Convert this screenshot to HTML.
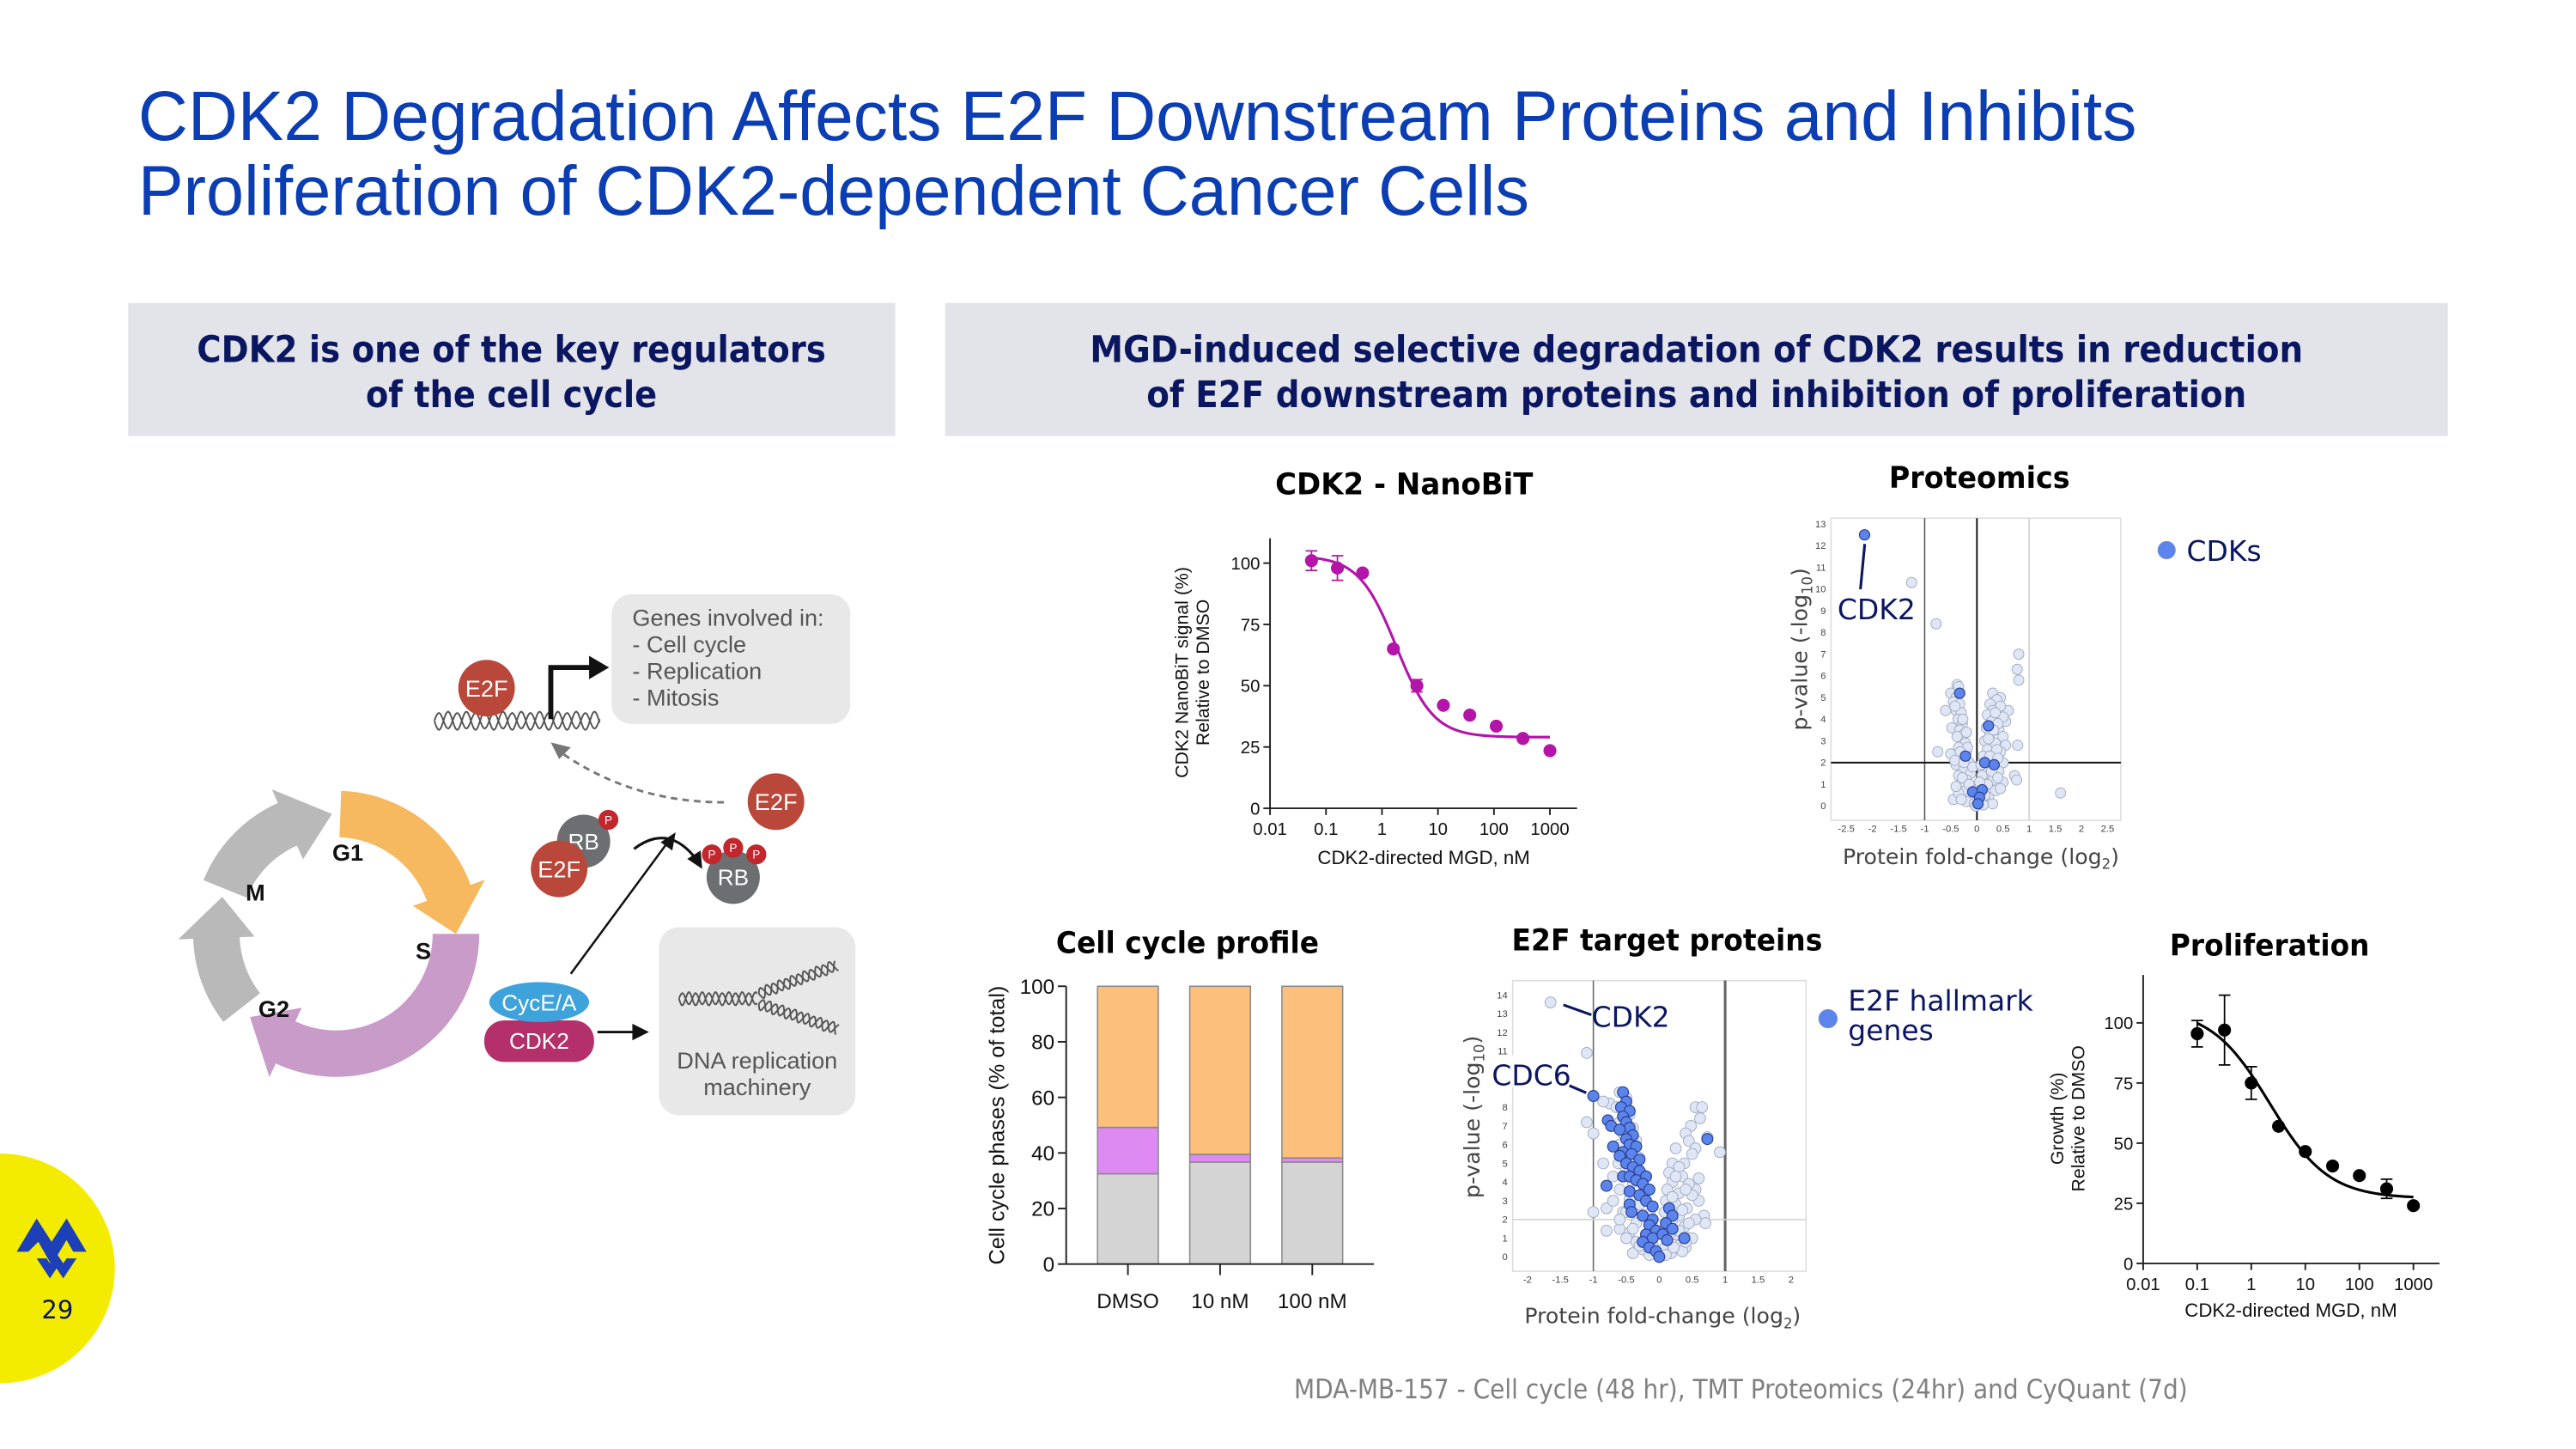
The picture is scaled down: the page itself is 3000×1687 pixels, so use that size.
<!DOCTYPE html>
<html><head><meta charset="utf-8">
<style>
html,body{margin:0;padding:0;background:#fff;}
svg{display:block;}
text{font-family:"Liberation Sans",Arial,sans-serif;}
.vd{font-family:"DejaVu Sans","Liberation Sans",sans-serif;}
</style></head>
<body>
<svg id="root" xmlns="http://www.w3.org/2000/svg" width="3000" height="1687" viewBox="0 0 1548 870.5">
<rect x="0" y="0" width="1548" height="870.5" fill="#fff"/>

<g fill="#0b3db3" class="vd">
<text x="83" y="84" font-size="42" textLength="1201" lengthAdjust="spacingAndGlyphs">CDK2 Degradation Affects E2F Downstream Proteins and Inhibits</text>
<text x="83" y="129" font-size="42" textLength="836" lengthAdjust="spacingAndGlyphs">Proliferation of CDK2-dependent Cancer Cells</text>
</g>

<g>
<rect x="77" y="182" width="461" height="80" fill="#e2e4ea"/>
<text class="vd" x="307.3" y="217.6" text-anchor="middle" font-size="22" font-weight="bold" fill="#0b1660" textLength="378" lengthAdjust="spacingAndGlyphs">CDK2 is one of the key regulators</text>
<text class="vd" x="307.3" y="244.5" text-anchor="middle" font-size="22" font-weight="bold" fill="#0b1660" textLength="175" lengthAdjust="spacingAndGlyphs">of the cell cycle</text>
</g>
<g>
<rect x="568" y="182" width="903" height="80" fill="#e2e4ea"/>
<text class="vd" x="1019.5" y="217.6" text-anchor="middle" font-size="22" font-weight="bold" fill="#0b1660" textLength="729" lengthAdjust="spacingAndGlyphs">MGD-induced selective degradation of CDK2 results in reduction</text>
<text class="vd" x="1019.5" y="244.5" text-anchor="middle" font-size="22" font-weight="bold" fill="#0b1660" textLength="661" lengthAdjust="spacingAndGlyphs">of E2F downstream proteins and inhibition of proliferation</text>
</g>

<g id="diagram"></g>

<g id="nanobit"></g>
<g id="prot"></g>
<g id="cc"></g>
<g id="e2f"></g>
<g id="prolif"></g>

<g>
<circle cx="0" cy="762" r="69" fill="#f4ec00"/>
<path d="M10,752 L22,732 L31,746 L40,732 L52,752 L44,752 L40,745 L31,760 L23,746 L17,752 Z" fill="#1d3fb8"/>
<path d="M22,756 L30,768 L34,762 L38,768 L46,756 L40,756 L38,759 L34,753 L30,759 L28,756 Z" fill="#1d3fb8"/>
<text x="34.5" y="792" text-anchor="middle" font-size="15" fill="#0b1660" class="vd">29</text>
</g>
<text x="777.6" y="840" font-size="16" fill="#808080" class="vd" textLength="537" lengthAdjust="spacingAndGlyphs">MDA-MB-157 - Cell cycle (48 hr), TMT Proteomics (24hr) and CyQuant (7d)</text>
</svg>

<script>
// ---------- DATA ----------
const nbConc = [0.055, 0.16, 0.45, 1.6, 4.2, 12.5, 37, 110, 330, 1000];
const nbVal  = [101, 98, 96, 65, 50, 42, 38, 33.5, 28.5, 23.5];
const nbErr  = [4, 5, 0, 0, 2.5, 0, 0, 0, 0, 0];
const nbFit  = [103, 29, 1.8, 1.3];
const nbXTicks = ["0.01", "0.1", "1", "10", "100", "1000"];
const nbYTicks = [0, 25, 50, 75, 100];
const prConc = [0.1, 0.32, 1, 3.2, 10, 32, 100, 320, 1000];
const prVal  = [95.5, 97, 75, 57, 46.5, 40.5, 36.5, 31, 24];
const prErr  = [5.5, 14.5, 6.8, 0, 0, 0, 0, 4, 0];
const prFit  = [106, 27, 2.2, 0.8];
const prXTicks = ["0.01", "0.1", "1", "10", "100", "1000"];
const prYTicks = [0, 25, 50, 75, 100];
const ccCats = ["DMSO", "10 nM", "100 nM"];
const ccG1   = [32.5, 36.7, 36.7];
const ccS    = [16.7, 2.8, 1.5];
const ccG2M  = [50.8, 60.5, 61.8];
const ccYTicks = [0, 20, 40, 60, 80, 100];
const ptLight = [[-1.25,10.3],[-0.78,8.4],[0.8,7.0],[0.77,6.3],[0.8,5.8],[1.6,0.6],[-0.75,2.5],[0.78,2.8],[0.72,1.4],[0.76,1.2],[-0.45,0.3],[-0.6,4.4],[-0.48,3.6],[0.6,4.4],[0.55,3.9],
[-0.38,5.6],[-0.35,5.5],[-0.5,5.2],[-0.4,5.0],[-0.45,4.8],[-0.33,4.7],[-0.4,4.4],[-0.3,4.3],[-0.36,4.0],[-0.28,3.8],[-0.33,3.5],[-0.25,3.3],[-0.3,3.1],[-0.22,2.9],[-0.35,2.7],[-0.2,2.5],[-0.5,2.4],[-0.3,2.2],[-0.15,2.0],[-0.4,1.9],[-0.25,1.7],[-0.12,1.5],[-0.35,1.4],[-0.2,1.2],[-0.3,1.0],[-0.1,0.9],[-0.22,0.7],[-0.35,0.6],[-0.12,0.4],[-0.2,0.2],[-0.05,0.1],
[-0.42,4.6],[-0.27,4.0],[-0.38,3.2],[-0.18,2.7],[-0.42,2.1],[-0.08,1.8],[-0.28,1.3],[-0.15,1.0],[-0.4,0.9],[-0.3,0.3],[-0.05,0.7],[-0.25,2.0],[-0.2,3.4],[-0.32,2.5],
[0.3,5.2],[0.45,5.0],[0.38,4.9],[0.25,4.7],[0.45,4.6],[0.3,4.4],[0.2,4.2],[0.5,4.1],[0.28,3.9],[0.18,3.6],[0.42,3.5],[0.25,3.3],[0.5,3.2],[0.15,3.0],[0.35,2.9],[0.55,2.8],[0.2,2.6],[0.45,2.5],[0.12,2.3],[0.3,2.1],[0.5,2.0],[0.2,1.8],[0.42,1.6],[0.1,1.4],[0.3,1.2],[0.5,1.1],[0.15,0.9],[0.35,0.7],[0.05,0.6],[0.22,0.4],[0.1,0.2],[0.3,0.1],[-0.02,0.0],[0.12,0.05],
[0.35,4.3],[0.4,3.8],[0.22,3.1],[0.38,2.6],[0.08,1.9],[0.28,1.6],[0.4,1.3],[0.2,1.0],[0.45,0.8],[0.15,0.5],[0.32,3.5],[0.25,2.3],[0.4,2.2],[0.05,1.1]];
const ptBlue = [[-2.15,12.5],[-0.33,5.2],[0.22,3.7],[-0.22,2.3],[0.15,2.0],[0.33,1.9],[-0.08,0.65],[0.1,0.75],[0.05,0.4],[0.02,0.1]];
const ptXTicks = [-2.5,-2,-1.5,-1,-0.5,0,0.5,1,1.5,2,2.5];
const ptYTicks = [0,1,2,3,4,5,6,7,8,9,10,11,12,13];
const e2Light = [[-1.65,13.6],[-1.1,10.9],[-1.1,7.2],[-1.0,6.6],[-1.0,2.4],[-0.8,2.6],[-0.8,1.4],[-0.85,5.0],[-0.75,8.2],[-0.85,8.3],[0.55,8.0],[0.65,8.0],[0.62,7.4],[0.48,7.0],[0.92,5.6],[0.73,6.4],[0.4,6.6],[0.45,6.2],[0.55,5.8],[0.5,5.5],[0.25,5.8],[0.38,5.0],[0.6,4.2],[0.55,3.6],[0.6,3.0],[0.68,2.2],[0.7,1.8],[0.45,1.0],[0.4,0.5],[-0.4,0.2],[-0.6,1.5],[-0.55,2.4],
[-0.6,8.8],[-0.5,8.5],[-0.65,8.0],[-0.45,7.6],[-0.6,7.2],[-0.4,6.9],[-0.55,6.6],[-0.35,6.2],[-0.6,6.0],[-0.45,5.7],[-0.3,5.3],[-0.62,5.0],[-0.5,4.7],[-0.25,4.4],[-0.7,4.3],[-0.4,4.0],[-0.6,3.6],[-0.2,3.5],[-0.45,3.1],[-0.7,3.0],[-0.3,2.8],[-0.5,2.4],[-0.15,2.3],[-0.6,2.0],[-0.35,1.8],[-0.1,1.6],[-0.45,1.3],[-0.2,1.1],[-0.35,0.8],[-0.1,0.6],[-0.25,0.4],[-0.05,0.2],
[0.2,5.0],[0.3,4.8],[0.15,4.5],[0.35,4.3],[0.2,4.0],[0.45,3.9],[0.12,3.6],[0.3,3.4],[0.5,3.3],[0.1,3.0],[0.25,2.8],[0.42,2.6],[0.08,2.4],[0.3,2.2],[0.55,2.0],[0.15,1.9],[0.38,1.6],[0.05,1.4],[0.25,1.2],[0.5,1.0],[0.12,0.8],[0.3,0.6],[0.05,0.4],[0.18,0.2],[0.35,0.3],[0.0,0.0],
[0.25,4.3],[0.4,3.6],[0.2,3.2],[0.35,2.5],[0.2,2.0],[0.45,1.8],[0.3,1.4],[0.15,1.1],[0.4,0.8],[0.22,0.5],[0.1,0.1],[-0.15,0.1],[-0.3,0.6],[-0.5,1.0],[-0.4,1.5]];
const e2Blue = [[-0.55,8.8],[-0.5,8.3],[-0.58,8.0],[-0.45,7.8],[-0.55,7.5],[-0.78,7.3],[-0.73,7.0],[-0.5,7.2],[-0.45,6.9],[-0.6,6.8],[-0.4,6.5],[-0.5,6.3],[-0.7,5.9],[-0.45,6.0],[-0.35,5.9],[-0.55,5.6],[-0.6,5.4],[-0.42,5.5],[-0.3,5.2],[-0.5,5.0],[-0.4,4.8],[-0.3,4.6],[-0.55,4.3],[-0.45,4.3],[-0.2,4.3],[-0.35,4.1],[-0.8,3.8],[-0.25,3.9],[-0.45,3.5],[-0.15,3.6],[-0.3,3.3],[-0.2,3.0],[-0.45,2.8],[-0.1,2.7],[-0.42,2.4],[-0.25,2.2],[-0.1,2.0],[-0.15,1.7],[-0.05,1.4],[-0.2,1.2],[-0.1,1.0],[-0.25,0.8],[-0.15,0.5],[-0.05,0.3],[0.0,0.0],[0.15,2.6],[0.2,2.2],[0.1,1.8],[0.2,1.5],[0.05,1.2],[0.12,0.9],[0.38,1.0],[0.73,6.3],[-1.0,8.6]];
const e2XTicks = [-2,-1.5,-1,-0.5,0,0.5,1,1.5,2];
const e2YTicks = [0,1,2,3,4,5,6,7,8,11,12,13,14];

// ---------- HELPERS ----------
const NS = "http://www.w3.org/2000/svg";
function mk(tag, attrs, parent, txt) {
  const e = document.createElementNS(NS, tag);
  for (const k in attrs) e.setAttribute(k, attrs[k]);
  if (txt !== undefined) e.textContent = txt;
  parent.appendChild(e);
  return e;
}
function logistic(c, p) { return p[1] + (p[0] - p[1]) / (1 + Math.pow(c / p[2], p[3])); }

function doseChart(g, o) {
  const X = c => o.x0 + (Math.log10(c) + 2) * o.dec;
  const Y = v => o.y0 - v * o.ky;
  let e;
  e = mk("line", {x1:o.x0, y1:o.y0, x2:o.xEnd, y2:o.y0, stroke:"#222", "stroke-width":1}, g);
  
  
  e = mk("line", {x1:o.x0, y1:o.y0, x2:o.x0, y2:o.yTop, stroke:"#222", "stroke-width":1}, g);
  
  
  o.xTicks.forEach((t, i) => {
    const x = X(Math.pow(10, i - 2));
    let a = mk("line", {x1:x, y1:o.y0, x2:x, y2:o.y0 + 4, stroke:"#222", "stroke-width":1}, g);
    
    
    a = mk("text", {x:x, y:o.y0 + 16, "text-anchor":"middle", "font-size":10.5, fill:"#111"}, g, t);
    
    
  });
  o.yTicks.forEach(t => {
    const y = Y(t);
    let a = mk("line", {x1:o.x0 - 4, y1:y, x2:o.x0, y2:y, stroke:"#222", "stroke-width":1}, g);
    
    
    a = mk("text", {x:o.x0 - 6, y:y + 3.8, "text-anchor":"end", "font-size":10.5, fill:"#111"}, g, String(t));
    
    
  });
  let d = "";
  const lo = Math.log10(o.conc[0]), hi = Math.log10(o.conc[o.conc.length - 1]);
  for (let k = 0; k <= 80; k++) {
    const c = Math.pow(10, lo + (hi - lo) * k / 80);
    d += (k ? "L" : "M") + X(c).toFixed(2) + "," + Y(logistic(c, o.fit)).toFixed(2);
  }
  e = mk("path", {d:d, fill:"none", stroke:o.color, "stroke-width":1.6}, g);
  
  
  o.conc.forEach((c, i) => {
    const x = X(c), y = Y(o.vals[i]);
    if (o.err[i] > 0) {
      const y1 = Y(o.vals[i] + o.err[i]), y2 = Y(o.vals[i] - o.err[i]);
      let a = mk("path", {d:`M${x},${y1}V${y2}M${x-3.5},${y1}H${x+3.5}M${x-3.5},${y2}H${x+3.5}`, stroke:o.color, "stroke-width":0.9, fill:"none"}, g);
      
      
    }
    let p = mk("circle", {cx:x, cy:y, r:3.9, fill:o.color}, g);
    
    
  });
}

doseChart(document.getElementById("nanobit"), {x0:763.2, dec:33.64, y0:485.6, ky:1.473, xEnd:947.7, yTop:323.4,
  conc:nbConc, vals:nbVal, err:nbErr, fit:nbFit, xTicks:nbXTicks, yTicks:nbYTicks, color:"#b414a8"});
doseChart(document.getElementById("prolif"), {x0:1287.9, dec:32.48, y0:759, ky:1.445, xEnd:1466, yTop:585.7,
  conc:prConc, vals:prVal, err:prErr, fit:prFit, xTicks:prXTicks, yTicks:prYTicks, color:"#000"});

(function labels() {
  const g1 = document.getElementById("nanobit"), g2 = document.getElementById("prolif");
  let e;
  e = mk("text", {x:843.8, y:297, "text-anchor":"middle", "font-size":18, "font-weight":"bold", fill:"#000", class:"vd", textLength:155, lengthAdjust:"spacingAndGlyphs"}, g1, "CDK2 - NanoBiT");
  
  
  e = mk("text", {x:855.6, y:519, "text-anchor":"middle", "font-size":11.5, fill:"#111"}, g1, "CDK2-directed MGD, nM");
  
  
  e = mk("text", {transform:"translate(726,404) rotate(-90)", "text-anchor":"middle", "font-size":11, fill:"#111"}, g1);
  
  
  mk("tspan", {x:0, y:-12}, e, "CDK2 NanoBiT signal (%)");
  mk("tspan", {x:0, y:0.5}, e, "Relative to DMSO");

  e = mk("text", {x:1363.9, y:574, "text-anchor":"middle", "font-size":18, "font-weight":"bold", fill:"#000", class:"vd", textLength:120, lengthAdjust:"spacingAndGlyphs"}, g2, "Proliferation");
  
  
  e = mk("text", {x:1376.7, y:791, "text-anchor":"middle", "font-size":11.5, fill:"#111"}, g2, "CDK2-directed MGD, nM");
  
  
  e = mk("text", {transform:"translate(1251,672) rotate(-90)", "text-anchor":"middle", "font-size":11, fill:"#111"}, g2);
  
  
  mk("tspan", {x:0, y:-11}, e, "Growth (%)");
  mk("tspan", {x:0, y:1.5}, e, "Relative to DMSO");
})();

(function () {
  const g = document.getElementById("cc");
  const Y = v => 759.4 - v * 1.669;
  const x0 = 640.7, band = 55.4, first = 677.8, bw = 36.5;
  const X = i => first + i * band;
  let e;
  e = mk("text", {x:713.6, y:572.5, "text-anchor":"middle", "font-size":18, "font-weight":"bold", fill:"#000", class:"vd", textLength:158, lengthAdjust:"spacingAndGlyphs"}, g, "Cell cycle profile");
  
  
  const segs = [[ccG1, "#d4d4d4", "g1-segment"], [ccS, "#dd8af2", "s-segment"], [ccG2M, "#fcbf7c", "g2m-segment"]];
  ccCats.forEach((c, i) => {
    let base = 0;
    segs.forEach(s => {
      const v = s[0][i];
      const r = mk("rect", {x:X(i) - bw / 2, y:Y(base + v), width:bw, height:v * 1.669, fill:s[1], stroke:"#8a8a8a", "stroke-width":0.8}, g);
      
      
      base += v;
    });
    let t = mk("line", {x1:X(i), y1:759.4, x2:X(i), y2:766, stroke:"#222", "stroke-width":1}, g);
    
    
    t = mk("text", {x:X(i), y:786, "text-anchor":"middle", "font-size":12.5, fill:"#111"}, g, c);
    
    
  });
  e = mk("line", {x1:x0, y1:759.4, x2:825.6, y2:759.4, stroke:"#222", "stroke-width":1}, g);
  
  
  e = mk("line", {x1:x0, y1:759.4, x2:x0, y2:Y(100), stroke:"#222", "stroke-width":1}, g);
  
  
  ccYTicks.forEach(v => {
    let t = mk("line", {x1:x0 - 5, y1:Y(v), x2:x0, y2:Y(v), stroke:"#222", "stroke-width":1}, g);
    
    
    t = mk("text", {x:x0 - 7, y:Y(v) + 4.5, "text-anchor":"end", "font-size":12.5, fill:"#111"}, g, String(v));
    
    
  });
  e = mk("text", {transform:"translate(603.5,676) rotate(-90)", "text-anchor":"middle", "font-size":13, fill:"#111"}, g, "Cell cycle phases (% of total)");
  
  
})();

function volcano(g, o) {
  const X = v => o.x0 + v * o.kx;
  const Y = v => o.y0 - v * o.ky;
  let e;
  e = mk("rect", {x:o.fl, y:o.ft, width:o.fr - o.fl, height:o.fb - o.ft, fill:"#fff", stroke:"#dcdcdc", "stroke-width":0.8}, g);
  
  
  o.vlines.forEach(v => {
    const l = mk("line", {x1:X(v[0]), y1:o.ft, x2:X(v[0]), y2:o.fb, stroke:v[1], "stroke-width":v[2]}, g);
    
    
  });
  e = mk("line", {x1:o.fl, y1:Y(2), x2:o.fr, y2:Y(2), stroke:o.hcol, "stroke-width":o.hw}, g);
  
  
  o.xTicks.forEach(v => {
    const t = mk("text", {x:X(v), y:o.fb + 7, "text-anchor":"middle", "font-size":5.8, fill:"#444"}, g, String(v));
    
    
  });
  o.yTicks.forEach(v => {
    const t = mk("text", {x:o.fl - 3, y:Y(v) + 2, "text-anchor":"end", "font-size":5.8, fill:"#444"}, g, String(v));
    
    
  });
  o.light.forEach(p => {
    const c = mk("circle", {cx:X(p[0]), cy:Y(p[1]), r:o.r, fill:"#dfe6f6", stroke:"#a4abc0", "stroke-width":0.5}, g);
    
    
  });
  o.blue.forEach(p => {
    const c = mk("circle", {cx:X(p[0]), cy:Y(p[1]), r:o.r, fill:"#5b84ec", stroke:"#2a3f8e", "stroke-width":0.6}, g);
    
    
  });
  e = mk("text", {x:(o.fl + o.fr) / 2 + o.xtOff, y:o.xtY, "text-anchor":"middle", "font-size":13, fill:"#444", class:"vd"}, g);
  
  
  mk("tspan", {}, e, "Protein fold-change (log");
  mk("tspan", {"font-size":8.5, dy:3}, e, "2");
  mk("tspan", {dy:-3}, e, ")");
  e = mk("text", {transform:`translate(${o.ytX},${o.ytY}) rotate(-90)`, "text-anchor":"middle", "font-size":13, fill:"#444", class:"vd"}, g);
  
  
  mk("tspan", {}, e, "p-value (-log");
  mk("tspan", {"font-size":8.5, dy:3}, e, "10");
  mk("tspan", {dy:-3}, e, ")");
}

(function () {
  const g = document.getElementById("prot");
  volcano(g, {x0:1188, kx:31.4, y0:484.2, ky:13.03, fl:1100.3, fr:1274.5, ft:311.3, fb:492.8,
    vlines:[[-1, "#555", 0.8], [0, "#111", 1], [1, "#d0d0d0", 0.8]], hcol:"#111", hw:1,
    xTicks:ptXTicks, yTicks:ptYTicks, light:ptLight, blue:ptBlue, r:3.1, xtOff:3, xtY:519, ytX:1086, ytY:390});
  let e;
  e = mk("text", {x:1189.5, y:293, "text-anchor":"middle", "font-size":18, "font-weight":"bold", fill:"#000", class:"vd", textLength:108.7, lengthAdjust:"spacingAndGlyphs"}, g, "Proteomics");
  
  
  e = mk("line", {x1:1120.6, y1:326.8, x2:1118, y2:354, stroke:"#0b1660", "stroke-width":1.6}, g);
  
  
  e = mk("text", {x:1104.2, y:372, "font-size":17, fill:"#0b1660", class:"vd"}, g, "CDK2");
  
  
  e = mk("circle", {cx:1302, cy:330.5, r:5.2, fill:"#5b84ec", stroke:"#7a8fc8", "stroke-width":0.5}, g);
  
  
  e = mk("text", {x:1314, y:337, "font-size":17, fill:"#0b1660", class:"vd"}, g, "CDKs");
  
  
})();

(function () {
  const g = document.getElementById("e2f");
  volcano(g, {x0:997.1, kx:39.6, y0:755.1, ky:11.24, fl:909, fr:1085.3, ft:589.1, fb:763.7,
    vlines:[[-1, "#666", 0.8], [1, "#666", 1.6]], hcol:"#d4d4d4", hw:0.8,
    xTicks:e2XTicks, yTicks:e2YTicks, light:e2Light, blue:e2Blue, r:3.3, xtOff:2, xtY:795, ytX:889, ytY:671});
  let e;
  e = mk("text", {x:1001.8, y:571, "text-anchor":"middle", "font-size":18, "font-weight":"bold", fill:"#000", class:"vd", textLength:186.7, lengthAdjust:"spacingAndGlyphs"}, g, "E2F target proteins");
  
  
  e = mk("line", {x1:939.5, y1:603.7, x2:956.3, y2:609.7, stroke:"#0b1660", "stroke-width":1.6}, g);
  
  
  e = mk("text", {x:956.5, y:617, "font-size":17, fill:"#0b1660", class:"vd"}, g, "CDK2");
  
  
  e = mk("rect", {x:895, y:634, width:48, height:19, fill:"#fff"}, g);
  
  
  e = mk("text", {x:896.5, y:652, "font-size":17, fill:"#0b1660", class:"vd"}, g, "CDC6");
  
  
  e = mk("line", {x1:943.1, y1:652.2, x2:953.2, y2:656.5, stroke:"#0b1660", "stroke-width":1.6}, g);
  
  
  e = mk("circle", {cx:1098.5, cy:612, r:5.5, fill:"#5b84ec", stroke:"#7a8fc8", "stroke-width":0.5}, g);
  
  
  e = mk("text", {x:1110.6, y:607, "font-size":17, fill:"#0b1660", class:"vd"}, g, "E2F hallmark");
  
  
  e = mk("text", {x:1110.6, y:625, "font-size":17, fill:"#0b1660", class:"vd"}, g, "genes");
  
  
})();

(function () {
  const g = document.getElementById("diagram");
  const cx = 202, cy = 561, R = 72, W = 28;
  const P = (a, r) => [cx + r * Math.sin(a * Math.PI / 180), cy - r * Math.cos(a * Math.PI / 180)];
  function arrowSeg(a0, a1, a2, col, name) {
    const ro = R + W / 2, ri = R - W / 2, ho = R + W / 2 + 9, hi = R - W / 2 - 9;
    const f = p => p[0].toFixed(1) + "," + p[1].toFixed(1);
    const d = `M${f(P(a0, ro))} A${ro},${ro} 0 0 1 ${f(P(a1, ro))} L${f(P(a1, ho))} L${f(P(a2, R))} L${f(P(a1, hi))} L${f(P(a1, ri))} A${ri},${ri} 0 0 0 ${f(P(a0, ri))} Z`;
    const e = mk("path", {d:d, fill:col}, g);
    
    
  }
  arrowSeg(2, 70, 90, "#f6b95f", "g1-arrow");
  arrowSeg(90, 205, 226, "#c99bc9", "s-arrow");
  arrowSeg(232, 268, 288, "#b9b9b9", "g2-arrow");
  arrowSeg(292, 336, 358, "#b9b9b9", "m-arrow");
  const lab = [["G1", 209, 517], ["M", 153.5, 541], ["S", 254.4, 576], ["G2", 164.6, 611]];
  lab.forEach(l => {
    const e = mk("text", {x:l[1], y:l[2], "text-anchor":"middle", "font-size":14, "font-weight":"bold", fill:"#111"}, g, l[0]);
    
    
  });
  function dna(x0, x1, y, amp, per, name, rot) {
    let d1 = "", d2 = "";
    for (let x = x0; x <= x1; x += 0.7) {
      const s = amp * Math.sin((x - x0) / per * 2 * Math.PI);
      d1 += (x === x0 ? "M" : "L") + x.toFixed(1) + "," + (y + s).toFixed(1);
      d2 += (x === x0 ? "M" : "L") + x.toFixed(1) + "," + (y - s * 0.85).toFixed(1);
    }
    const e = mk("path", {d:d1 + d2, fill:"none", stroke:"#555", "stroke-width":1, transform:rot || ""}, g);
    
    
  }
  dna(261, 361, 433, 5.5, 11, "promoter-dna");
  let e;
  e = mk("path", {d:"M331,432 V401 H356", fill:"none", stroke:"#111", "stroke-width":3}, g);
  
  
  e = mk("path", {d:"M354,394 L366,401 L354,408 Z", fill:"#111"}, g);
  
  
  function circ(x, y, r, col, txt, name, fs) {
    let c = mk("circle", {cx:x, cy:y, r:r, fill:col}, g);
    
    
    c = mk("text", {x:x, y:y + fs * 0.36, "text-anchor":"middle", "font-size":fs, fill:"#fff"}, g, txt);
    
    
  }
  circ(292.4, 413.4, 17, "#b9473a", "E2F", "e2f-bound", 14);
  e = mk("rect", {x:367.5, y:357, width:143.5, height:78, rx:12, fill:"#e7e8e7"}, g);
  
  
  ["Genes involved in:", "- Cell cycle", "- Replication", "- Mitosis"].forEach((t, i) => {
    const x = mk("text", {x:380, y:376 + i * 16, "font-size":14, fill:"#555"}, g, t);
    
    
  });
  e = mk("path", {d:"M435,482 Q380,482 337,452", fill:"none", stroke:"#777", "stroke-width":1.5, "stroke-dasharray":"4,3"}, g);
  
  
  e = mk("path", {d:"M331,446 L343,449 L336,456 Z", fill:"#777"}, g);
  
  
  circ(466.3, 481.6, 17, "#b9473a", "E2F", "e2f-free", 14);
  circ(350.7, 505.4, 16, "#6d6e71", "RB", "rb-bound", 13.5);
  circ(365.6, 492.5, 6, "#c1272d", "P", "phospho", 7);
  circ(336, 522, 17, "#b9473a", "E2F", "e2f-rb", 14);
  e = mk("path", {d:"M381,510 Q402,494 419,517", fill:"none", stroke:"#111", "stroke-width":1.6}, g);
  
  
  e = mk("path", {d:"M413,516 L422,522 L421,511 Z", fill:"#111"}, g);
  
  
  circ(440.6, 527, 16, "#6d6e71", "RB", "rb-phospho", 13.5);
  circ(427.8, 513.3, 6, "#c1272d", "P", "phospho", 7);
  circ(440.6, 509.3, 6, "#c1272d", "P", "phospho", 7);
  circ(454.5, 513.3, 6, "#c1272d", "P", "phospho", 7);
  e = mk("line", {x1:343, y1:585, x2:402, y2:505, stroke:"#111", "stroke-width":1.3}, g);
  
  
  e = mk("path", {d:"M406,500 L404,511 L397,506 Z", fill:"#111"}, g);
  
  
  e = mk("rect", {x:291, y:613, width:66, height:25, rx:12, fill:"#b3306a"}, g);
  
  
  e = mk("text", {x:324, y:630, "text-anchor":"middle", "font-size":13.5, fill:"#fff"}, g, "CDK2");
  
  
  e = mk("ellipse", {cx:324, cy:602, rx:30, ry:12, fill:"#3ea2db"}, g);
  
  
  e = mk("text", {x:324, y:607, "text-anchor":"middle", "font-size":13.5, fill:"#fff"}, g, "CycE/A");
  
  
  e = mk("line", {x1:359, y1:620, x2:382, y2:620, stroke:"#111", "stroke-width":1.5}, g);
  
  
  e = mk("path", {d:"M380,615 L390,620 L380,625 Z", fill:"#111"}, g);
  
  
  e = mk("rect", {x:396, y:557, width:118, height:113, rx:12, fill:"#e7e8e7"}, g);
  
  
  dna(408, 455, 600, 4, 8, "replication-dna");
  dna(456, 506, 0, 3.5, 8, "replication-fork-upper", "translate(456,597) rotate(-20) translate(-456,0)");
  dna(456, 506, 0, 3.5, 8, "replication-fork-lower", "translate(456,603) rotate(18) translate(-456,0)");
  e = mk("text", {x:455, y:642, "text-anchor":"middle", "font-size":14, fill:"#555"}, g, "DNA replication");
  
  
  e = mk("text", {x:455, y:658, "text-anchor":"middle", "font-size":14, fill:"#555"}, g, "machinery");
  
  
})();
</script>
</body></html>
